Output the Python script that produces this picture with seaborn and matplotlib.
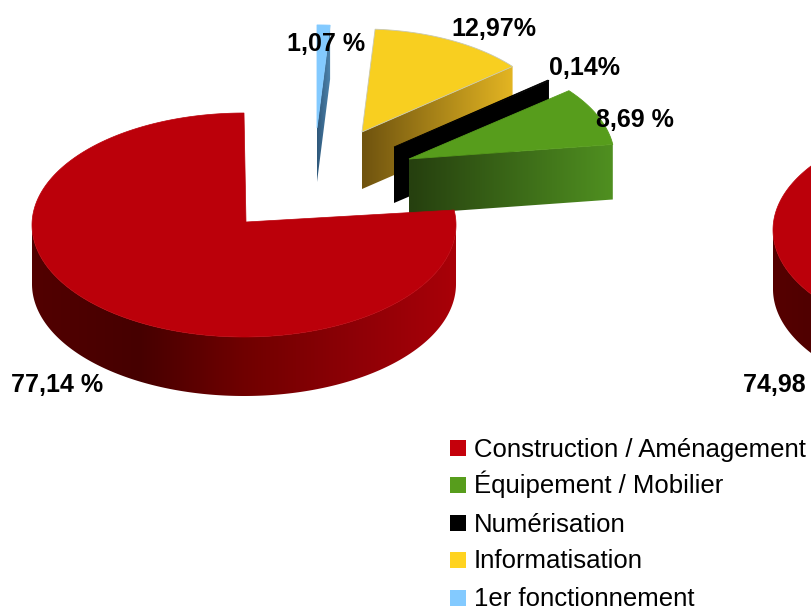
import numpy as np
import pandas as pd
import matplotlib
matplotlib.use("Agg")
import matplotlib.pyplot as plt
from matplotlib.patches import Polygon
import seaborn as sns

categories = ["Construction / Aménagement", "Équipement / Mobilier", "Numérisation", "Informatisation", "1er fonctionnement"]
values_left = [77.14, 8.69, 0.14, 12.97, 1.07]
labels_left = ["77,14 %", "8,69 %", "0,14%", "12,97%", "1,07 %"]
value_right = 74.98
label_right = "74,98 %"

colors = ["#BB000A", "#579D1C", "#000000", "#F8CF20", "#83CAFF"]
legend_colors = ["#C5000B", "#579D1C", "#000000", "#FFD320", "#83CAFF"]

# look of the fake 3d: apex of each slice and how much it shrinks with distance
apex_x = [246, 409, 394, 362, 317]
apex_y = [222, 159, 147, 132, 128]
shrink = [1.0, 0.97, 0.94, 0.92, 0.92]
wall = [59, 55, 56, 57, 54]
cut_dark = ["#500000", "#26400F", "#000000", "#70540F", "#2F587A"]
cut_light = ["#A80008", "#4F8F20", "#000000", "#E2B422", "#4F86B0"]
label_x = [11, 596, 549, 451, 287]
label_y = [392, 127, 75, 36, 51]
legend_y = [448, 485, 523, 560, 598]

rx, ry = 212, 112

sns.set_theme(style="white")
plt.rcParams["font.family"] = ["Liberation Sans", "DejaVu Sans"]

df = pd.DataFrame({"category": categories, "value": values_left})
df["sweep"] = df["value"] / df["value"].sum() * 360
df["start"] = 90 + df["sweep"].cumsum() - df["sweep"]
df["end"] = df["start"] + df["sweep"]

fig = plt.figure(figsize=(8.12, 6.09), dpi=100)
ax = fig.add_axes([0, 0, 1, 1])


def arc(x0, y0, a0, a1, scale, n=120):
    t = np.radians(np.linspace(a0, a1, n))
    return x0 + rx * scale * np.cos(t), y0 - ry * scale * np.sin(t)


def gradient_wall(xs, ys, depth, palette, z):
    # side wall: left to right gradient clipped to the wall outline
    px = np.r_[xs, xs[::-1]]
    py = np.r_[ys, ys[::-1] + depth]
    im = ax.imshow(
        np.array(palette)[None, :, :],
        extent=[px.min(), px.max(), py.max(), py.min()],
        aspect="auto",
        interpolation="bilinear",
        zorder=z,
    )
    shape = Polygon(np.c_[px, py], closed=True, fc="none", ec="none", transform=ax.transData)
    ax.add_patch(shape)
    im.set_clip_path(shape)


# back slices first, red last because it sits in front of the green one
for z, i in enumerate([4, 3, 2, 1]):
    a0, a1 = df["start"][i], df["end"][i]
    x0, y0, s = apex_x[i], apex_y[i], shrink[i]
    ox, oy = arc(x0, y0, a0, a0, s, 2)
    xs = np.linspace(x0, ox[0], 40)
    ys = np.linspace(y0, oy[0], 40)
    gradient_wall(xs, ys, wall[i], sns.blend_palette([cut_dark[i], cut_light[i]], 40), z * 2 + 1)
    xt, yt = arc(x0, y0, a0, a1, s)
    ax.fill(np.r_[x0, xt], np.r_[y0, yt], color=colors[i], ec="#c8c8b0" if i == 3 else colors[i], lw=0.6, zorder=z * 2 + 2)

# main red slice, left pie. wall stops at the widest point of the rim
a0, a1 = df["start"][0], df["end"][0]
xw, yw = arc(244, 225, 180, min(a1, 360), 1.0, 200)
gradient_wall(xw, yw, wall[0], sns.blend_palette(["#520000", "#460000", "#700000", "#8C0006", "#A80008"], 100), 20)
xt, yt = arc(244, 225, a0, a1, 1.0, 300)
ax.fill(np.r_[apex_x[0], xt], np.r_[apex_y[0], yt], color=colors[0], lw=0.5, zorder=21)

# second pie, cut by the edge of the picture
right_end = 90 + value_right / 100 * 360
xw, yw = arc(985, 230, 180, 270, 1.0, 150)
gradient_wall(xw, yw, wall[0], sns.blend_palette(["#560000", "#440000", "#5a0000"], 100), 20)
xt, yt = arc(985, 230, 90, right_end, 1.0, 300)
ax.fill(np.r_[985, xt], np.r_[230, yt], color=colors[0], lw=0.5, zorder=21)

for i, lab in enumerate(labels_left):
    ax.text(label_x[i], label_y[i], lab, fontsize=18, fontweight="bold", color="black", va="baseline", zorder=30)
ax.text(743, 392, label_right, fontsize=18, fontweight="bold", color="black", va="baseline", zorder=30, clip_on=True)

# legend by hand, the rows of ax.legend come out uneven because of the accents
for n, c, y in zip(categories, legend_colors, legend_y):
    ax.scatter([458.5], [y], marker="s", s=125, color=c, linewidths=0, zorder=30)
    ax.text(474, y + 8.5, n, fontsize=18.5, color="black", va="baseline", zorder=30)

ax.set_xlim(0, 812)
ax.set_ylim(609, 0)
ax.axis("off")

fig.savefig("out.png", dpi=100)
